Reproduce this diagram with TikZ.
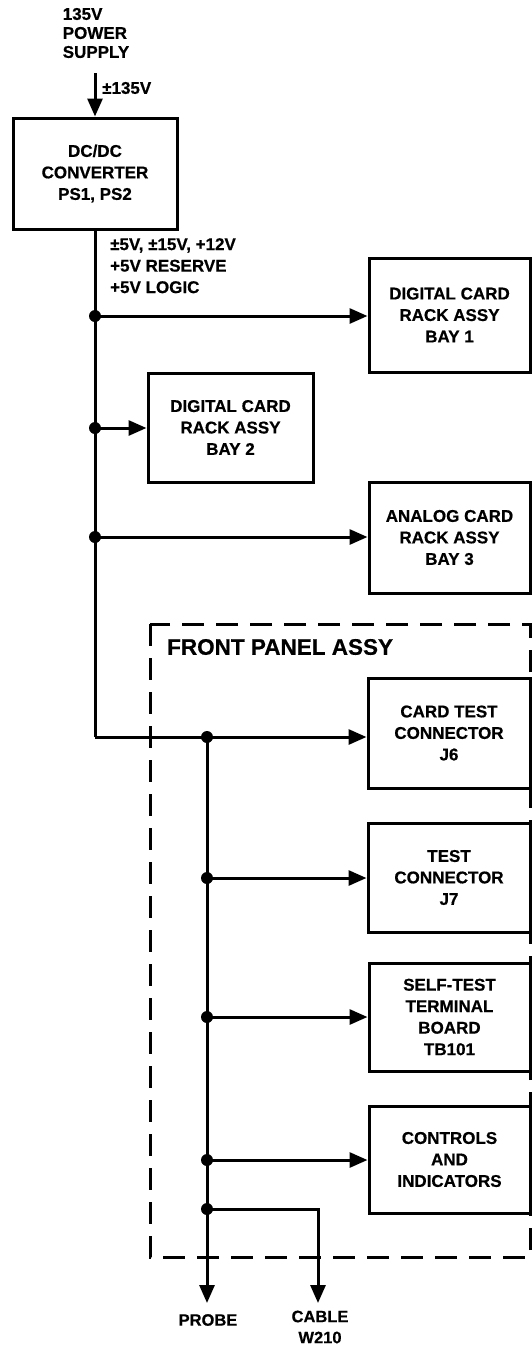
\documentclass[tikz,border=0pt]{standalone}
\usepackage{fontspec}
\setmainfont{Liberation Sans}[BoldFeatures={FakeBold=0.6}]
\usetikzlibrary{arrows.meta}
\begin{document}
\begin{tikzpicture}[x=1pt,y=-1pt,
  wire/.style={line width=3pt},
  arr/.style={wire,-{Triangle[length=18pt,width=15pt]}},
  blk/.style={draw,line width=3pt,align=center,inner sep=0pt,
    font=\fontsize{17}{21.5}\selectfont\bfseries},
  lbl/.style={inner sep=0pt,font=\fontsize{17}{21.5}\selectfont\bfseries},
  dot/.style={fill,circle,inner sep=0pt,minimum size=12pt}
]
\useasboundingbox (0,0) rectangle (532,1350);

% top label
\node[lbl,align=left,font=\fontsize{17}{19}\selectfont\bfseries] (psu) at (96,33) {135V\\POWER\\SUPPLY};
\coordinate (inTop) at (95,73);

% blocks
\node[blk,minimum width=164pt,minimum height=111pt] (dc) at (95,173.5) {DC/DC\\CONVERTER\\PS1, PS2};
\node[blk,minimum width=161pt,minimum height=114pt] (bay1) at (449.5,315) {DIGITAL CARD\\RACK ASSY\\BAY 1};
\node[blk,minimum width=165pt,minimum height=109pt] (bay2) at (230.5,427.5) {DIGITAL CARD\\RACK ASSY\\BAY 2};
\node[blk,minimum width=161pt,minimum height=111pt] (bay3) at (449.5,537.5) {ANALOG CARD\\RACK ASSY\\BAY 3};
\node[blk,minimum width=162pt,minimum height=110pt] (cardtest) at (449,733) {CARD TEST\\CONNECTOR\\J6};
\node[blk,minimum width=162pt,minimum height=109pt] (j7box) at (449,877.5) {TEST\\CONNECTOR\\J7};
\node[blk,minimum width=161pt,minimum height=108pt] (tb) at (449.5,1017) {SELF-TEST\\TERMINAL\\BOARD\\TB101};
\node[blk,minimum width=161pt,minimum height=107pt] (ctrl) at (449.5,1159.5) {CONTROLS\\AND\\INDICATORS};

% dashed front panel
\draw[line width=3pt,dash pattern=on 22pt off 12pt] (150,624) rectangle (530,1257);
\node[lbl,anchor=west,font=\fontsize{22.5}{26}\selectfont\bfseries] (fp) at (167,647) {FRONT PANEL ASSY};

% labels
\node[lbl,anchor=west] (v135) at (102,88) {±135V};
\node[lbl,anchor=north west,align=left] (rails) at (110,238) {±5V, ±15V, +12V\\+5V RESERVE\\+5V LOGIC};
\node[lbl,font=\fontsize{16.5}{21}\selectfont\bfseries] (probe) at (208,1320) {PROBE};
\node[lbl,font=\fontsize{16.5}{21}\selectfont\bfseries,align=center] (cable) at (320,1327) {CABLE\\W210};

% junction points
\coordinate (j1) at (95,316);
\coordinate (j2) at (95,428);
\coordinate (j3) at (95,537);
\coordinate (c1) at (95,737);
\coordinate (j4) at (207,737);
\coordinate (j5) at (207,878);
\coordinate (j6) at (207,1017);
\coordinate (j7) at (207,1160);
\coordinate (j8) at (207,1209);
\coordinate (c2) at (318,1209);
\coordinate (pEnd) at (207,1303);
\coordinate (cEnd) at (318,1303);

% connectors
\draw[arr] (inTop) -- (dc.north);
\draw[wire] (dc.south) -- (c1);
\draw[arr] (c1) -- (c1 -| cardtest.west);
\draw[arr] (j1) -- (j1 -| bay1.west);
\draw[arr] (j2) -- (j2 -| bay2.west);
\draw[arr] (j3) -- (j3 -| bay3.west);
\draw[wire] (j4) -- (j8);
\draw[arr] (j5) -- (j5 -| j7box.west);
\draw[arr] (j6) -- (j6 -| tb.west);
\draw[arr] (j7) -- (j7 -| ctrl.west);
\draw[arr] (j8) -- (pEnd);
\draw[arr] (j8) -- (c2) -- (cEnd);

% dots
\foreach \p in {j1,j2,j3,j4,j5,j6,j7,j8}
  \node[dot] at (\p) {};
\end{tikzpicture}
\end{document}
